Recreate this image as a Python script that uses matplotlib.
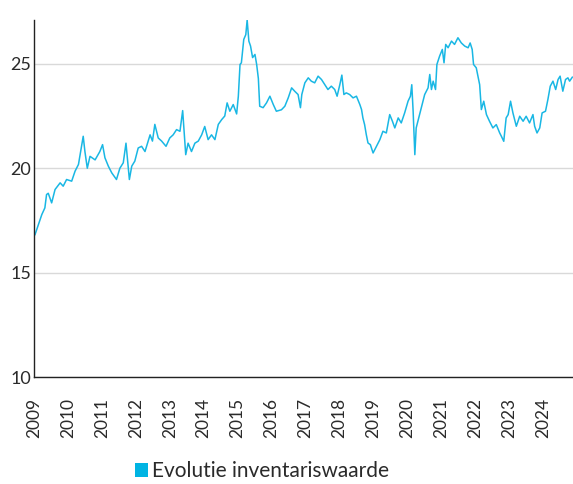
import matplotlib
matplotlib.use("Agg")
import matplotlib.pyplot as plt
from matplotlib.patches import Patch

# Net asset value per share, sampled along the period (decimal years)
years = [
    2009.03, 2009.13, 2009.23, 2009.32, 2009.37, 2009.42, 2009.52, 2009.62, 2009.77, 2009.86,
    2009.96, 2010.11, 2010.21, 2010.31, 2010.40, 2010.45, 2010.50, 2010.57, 2010.65, 2010.80,
    2010.94, 2011.02, 2011.09, 2011.19, 2011.29, 2011.43, 2011.53, 2011.63, 2011.71, 2011.78,
    2011.81, 2011.88, 2011.97, 2012.07, 2012.17, 2012.27, 2012.42, 2012.49, 2012.56, 2012.66,
    2012.76, 2012.89, 2013.00, 2013.10, 2013.20, 2013.30, 2013.38, 2013.43, 2013.47, 2013.54,
    2013.64, 2013.74, 2013.84, 2013.94, 2014.03, 2014.13, 2014.23, 2014.33, 2014.43, 2014.53,
    2014.62, 2014.69, 2014.77, 2014.87, 2014.97, 2015.02, 2015.07, 2015.11, 2015.18, 2015.24,
    2015.28, 2015.33, 2015.38, 2015.44, 2015.51, 2015.56, 2015.61, 2015.65, 2015.75, 2015.85,
    2015.95, 2016.05, 2016.14, 2016.29, 2016.39, 2016.49, 2016.59, 2016.68, 2016.78, 2016.85,
    2016.89, 2016.98, 2017.08, 2017.17, 2017.27, 2017.37, 2017.47, 2017.57, 2017.66, 2017.76,
    2017.86, 2017.93, 2018.01, 2018.07, 2018.13, 2018.20, 2018.30, 2018.40, 2018.50, 2018.60,
    2018.65, 2018.69, 2018.74, 2018.79, 2018.84, 2018.91, 2018.99, 2019.09, 2019.19, 2019.28,
    2019.38, 2019.48, 2019.56, 2019.63, 2019.73, 2019.82, 2019.92, 2020.02, 2020.09, 2020.13,
    2020.17, 2020.22, 2020.26, 2020.31, 2020.41, 2020.51, 2020.61, 2020.66, 2020.71, 2020.76,
    2020.83, 2020.87, 2020.95, 2021.03, 2021.08, 2021.13, 2021.20, 2021.30, 2021.39, 2021.49,
    2021.59, 2021.69, 2021.79, 2021.85, 2021.91, 2021.95, 2022.03, 2022.13, 2022.18, 2022.25,
    2022.33, 2022.42, 2022.52, 2022.62, 2022.72, 2022.77, 2022.84, 2022.91, 2022.97, 2023.04,
    2023.11, 2023.21, 2023.31, 2023.41, 2023.50, 2023.60, 2023.70, 2023.75, 2023.82, 2023.90,
    2023.97, 2024.07, 2024.14, 2024.21, 2024.29, 2024.37, 2024.44, 2024.50, 2024.58, 2024.66,
    2024.73, 2024.78, 2024.86,
]

nav_values = [
    16.82, 17.30, 17.78, 18.10, 18.74, 18.80, 18.34, 18.98, 19.30, 19.14,
    19.46, 19.38, 19.86, 20.18, 21.05, 21.53, 20.80, 20.00, 20.57, 20.40,
    20.80, 21.13, 20.50, 20.10, 19.78, 19.46, 20.00, 20.26, 21.20, 20.00,
    19.46, 20.10, 20.34, 20.97, 21.05, 20.80, 21.60, 21.30, 22.10, 21.45,
    21.30, 21.05, 21.45, 21.60, 21.85, 21.77, 22.76, 21.60, 20.65, 21.20,
    20.80, 21.20, 21.30, 21.60, 22.00, 21.37, 21.60, 21.37, 22.10, 22.33,
    22.50, 23.13, 22.73, 23.05, 22.60, 23.45, 24.97, 25.05, 26.17, 26.40,
    27.10, 26.09, 25.85, 25.30, 25.45, 24.97, 24.30, 22.97, 22.90, 23.13,
    23.45, 23.05, 22.73, 22.80, 22.97, 23.37, 23.85, 23.69, 23.53, 22.90,
    23.53, 24.09, 24.33, 24.17, 24.09, 24.41, 24.25, 24.00, 23.77, 23.93,
    23.77, 23.45, 24.00, 24.46, 23.53, 23.61, 23.53, 23.37, 23.45, 23.05,
    22.81, 22.41, 22.09, 21.61, 21.21, 21.13, 20.73, 21.05, 21.37, 21.77,
    21.69, 22.57, 22.25, 21.93, 22.41, 22.17, 22.65, 23.21, 23.45, 24.00,
    22.73, 20.65, 21.93, 22.25, 22.89, 23.53, 23.85, 24.49, 23.77, 24.17,
    23.77, 24.97, 25.37, 25.69, 25.05, 25.93, 25.77, 26.09, 25.93, 26.25,
    26.00, 25.85, 25.77, 26.00, 25.69, 24.97, 24.81, 24.00, 22.81, 23.21,
    22.57, 22.25, 21.93, 22.09, 21.69, 21.53, 21.29, 22.41, 22.57, 23.21,
    22.65, 22.01, 22.49, 22.25, 22.49, 22.17, 22.57, 22.01, 21.69, 21.93,
    22.65, 22.73, 23.29, 23.93, 24.17, 23.77, 24.25, 24.41, 23.69, 24.25,
    24.33, 24.17, 24.36,
]

year_ticks = list(range(2009, 2025))
value_ticks = [10, 15, 20, 25]
legend_label = "Evolutie inventariswaarde"

line_color = "#19B7E4"
text_color = "#2a2a2a"

plt.rcParams["font.family"] = ["Lato", "DejaVu Sans"]

fig = plt.figure(figsize=(5.73, 4.84), dpi=100)
ax = fig.add_axes([34 / 573, 1 - 377 / 484, 1 - 34 / 573, (377 - 20) / 484])

ax.plot(years, nav_values, color=line_color, linewidth=1.1)

ax.set_xlim(2009, 2024.88)
ax.set_ylim(10, max(nav_values))

ax.set_yticks(value_ticks)
ax.set_xticks(year_ticks)
ax.set_xticklabels([str(y) for y in year_ticks], rotation=90)

ax.yaxis.grid(True, color="#d9d9d9", linewidth=1.0)
ax.set_axisbelow(True)

for side in ("top", "right"):
    ax.spines[side].set_visible(False)
for side in ("left", "bottom"):
    ax.spines[side].set_color("#222222")
    ax.spines[side].set_linewidth(1.0)

ax.tick_params(axis="y", length=0, pad=2, labelsize=13, labelcolor=text_color)
ax.tick_params(axis="x", length=0, pad=15, labelsize=12.5, labelcolor=text_color)

handle = Patch(facecolor="#00B4E3", edgecolor="none", label=legend_label)
fig.legend(
    handles=[handle],
    loc="center",
    bbox_to_anchor=(262 / 573, 1 - 471 / 484),
    frameon=False,
    handlelength=0.65,
    handleheight=0.65,
    handletextpad=0.2,
    prop={"size": 15},
    labelcolor=text_color,
)

fig.savefig("out.png", dpi=100)
